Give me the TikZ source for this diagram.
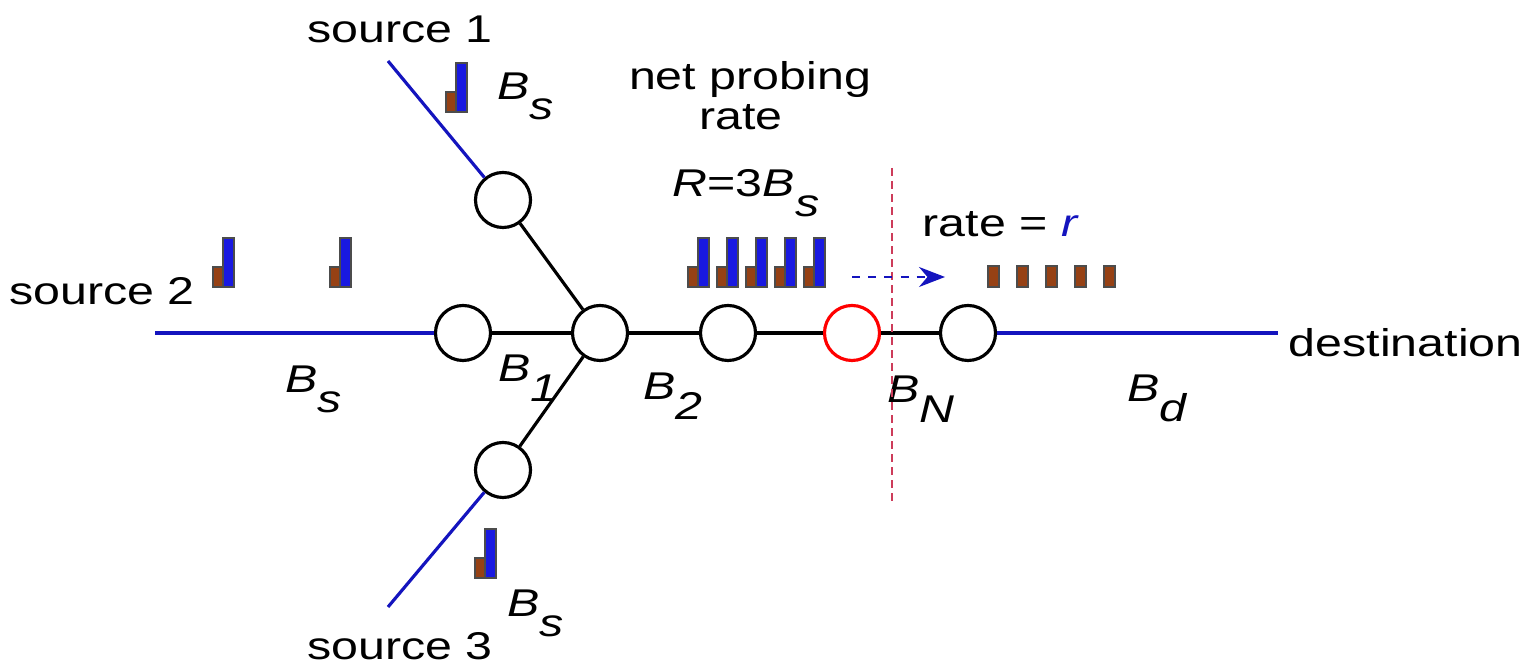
\documentclass[tikz,border=0pt]{standalone}
\usepackage{fontspec}
\setmainfont{Liberation Sans}[FakeStretch=1.25]
\usetikzlibrary{arrows.meta,positioning}
\definecolor{linkblue}{RGB}{20,20,190}
\definecolor{probeblue}{RGB}{25,25,225}
\definecolor{probebrown}{RGB}{150,65,20}
\definecolor{cutred}{RGB}{205,60,90}
\newcommand{\lowsub}[1]{\raisebox{-0.5em}{#1}}

\begin{document}
\begin{tikzpicture}[
    x=0.01cm, y=-0.01cm,
    font=\fontsize{11}{11.5}\selectfont,
    router/.style={circle, draw, line width=0.9pt, minimum size=0.55cm, inner sep=0pt, fill=white},
    link/.style={line width=0.9pt},
    access/.style={line width=0.9pt, draw=linkblue},
    lbl/.style={inner sep=0pt, anchor=base west},
    probehi/.style={draw=black!70, line width=0.3pt, fill=probeblue},
    probelo/.style={draw=black!70, line width=0.3pt, fill=probebrown}
]
\useasboundingbox (0,0) rectangle (1528,668);

% routers
\node[router] (s1r) at (503,200) {};
\node[router] (s2r) at (463,333) {};
\node[router] (hub) at (600,333) {};
\node[router] (s3r) at (503,470) {};
\node[router] (r2) at (728,333) {};
\node[router, draw=red] (bn) at (852,333) {};
\node[router] (dr) at (968,333) {};

% end points
\coordinate (s1) at (388,61);
\coordinate (s2) at (155,333);
\coordinate (s3) at (388,607);
\coordinate (dst) at (1278,333);

\draw[access] (s1) -- (s1r);
\draw[access] (s2) -- (s2r);
\draw[access] (s3) -- (s3r);
\draw[access] (dr) -- (dst);

\draw[link] (s1r) -- (hub);
\draw[link] (s2r) -- (hub);
\draw[link] (s3r) -- (hub);
\draw[link] (hub) -- (r2);
\draw[link] (r2) -- (bn);
\draw[link] (bn) -- (dr);

% labels
\node[lbl, anchor=base] (src1) at (400,43) {source 1};
\node[lbl, anchor=base] (src2) at (102,305) {source 2};
\node[lbl, anchor=base] (src3) at (400,660) {source 3};
\node[lbl] (dest) at (1288,357) {destination};

\node[lbl] (bs1) at (497,100) {\textit{B\lowsub{s}}};
\node[lbl] (bs2) at (285,393) {\textit{B\lowsub{s}}};
\node[lbl] (bs3) at (507,617) {\textit{B\lowsub{s}}};
\node[lbl] (b1) at (498,382) {\textit{B\lowsub{1}}};
\node[lbl] (b2) at (643,400) {\textit{B\lowsub{2}}};
\node[lbl] (bN) at (887,403) {\textit{B\lowsub{N}}};
\node[lbl] (bd) at (1127,402) {\textit{B\lowsub{d}}};

\node[lbl, anchor=base] (net) at (750,90) {net probing};
\node[lbl, anchor=base] (netrate) at (741,130) {rate};
\node[lbl] (bigR) at (672,197) {\textit{R}=3\textit{B\lowsub{s}}};
\node[lbl] (outrate) at (922,237) {rate = \textcolor{linkblue}{\textit{r}}};

% probes
\foreach \x/\y in {213/287, 330/287, 446/112, 475/578, 688/287, 717/287, 746/287, 775/287, 804/287} {
  \draw[probelo] (\x,\y) rectangle ++(10,-20);
  \draw[probehi] (\x+10,\y) rectangle ++(11,-49);
}
\foreach \x in {988, 1017, 1046, 1075, 1104}
  \draw[probelo] (\x,287) rectangle ++(11,-21);

% bottleneck cut and output rate
\coordinate (cuttop) at (892,168);
\coordinate (cutbot) at (892,505);
\draw[cutred, line width=0.45pt, dash pattern=on 2.3pt off 1.4pt] (cuttop) -- (cutbot);

\coordinate (rstart) at (852,277);
\coordinate (rend) at (945,277);
\draw[linkblue, line width=0.6pt, dash pattern=on 2.3pt off 2.3pt, -{Stealth[length=2.6mm, width=2mm]}] (rstart) -- (rend);
\end{tikzpicture}
\end{document}
